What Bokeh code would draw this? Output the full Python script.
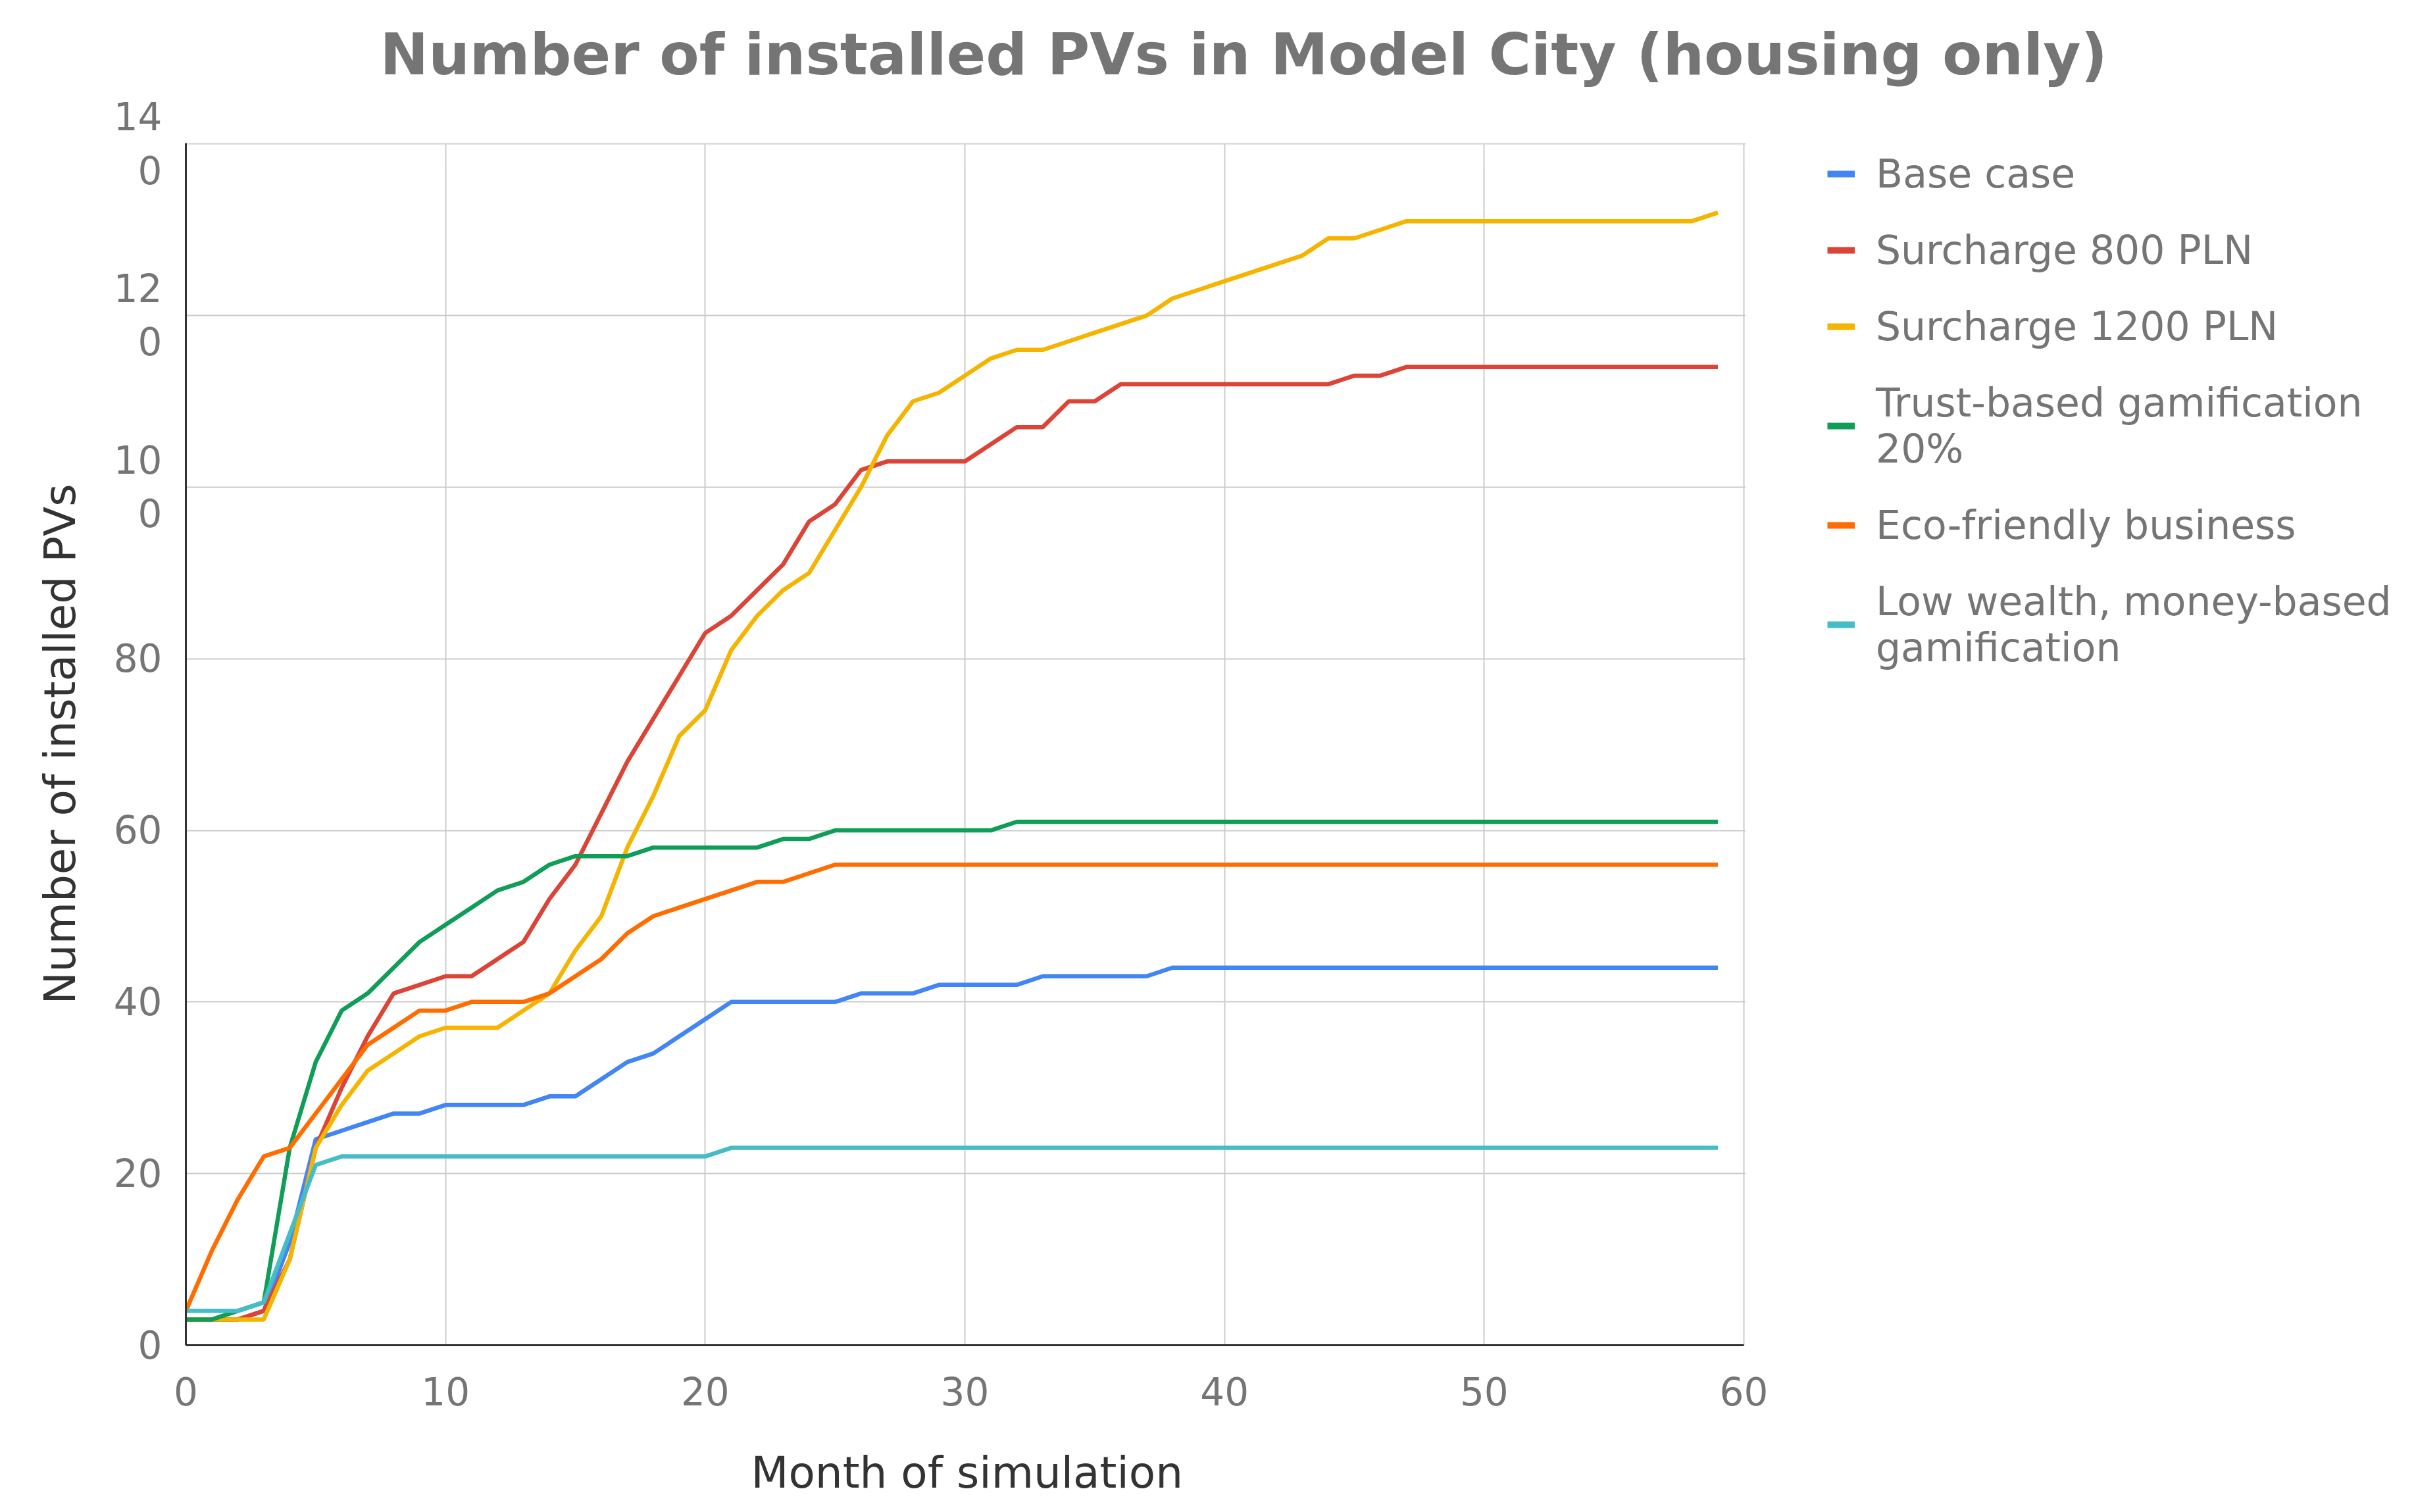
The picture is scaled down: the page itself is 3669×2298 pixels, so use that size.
from bokeh.plotting import figure
from bokeh.models import Range1d, FixedTicker, Legend, LegendItem, Title, BoxAnnotation
from bokeh.embed import file_html
from bokeh.resources import INLINE

months = list(range(60))

base_case = [3, 3, 3, 4, 12, 24, 25, 26, 27, 27,
             28, 28, 28, 28, 29, 29, 31, 33, 34, 36,
             38, 40, 40, 40, 40, 40, 41, 41, 41, 42,
             42, 42, 42, 43, 43, 43, 43, 43, 44] + [44] * 21
surcharge_800 = [3, 3, 3, 4, 10, 23, 30, 36, 41, 42,
                 43, 43, 45, 47, 52, 56, 62, 68, 73, 78,
                 83, 85, 88, 91, 96, 98, 102, 103, 103, 103,
                 103, 105, 107, 107, 110, 110, 112, 112, 112, 112,
                 112, 112, 112, 112, 112, 113, 113, 114] + [114] * 12
surcharge_1200 = [3, 3, 3, 3, 10, 23, 28, 32, 34, 36,
                  37, 37, 37, 39, 41, 46, 50, 58, 64, 71,
                  74, 81, 85, 88, 90, 95, 100, 106, 110, 111,
                  113, 115, 116, 116, 117, 118, 119, 120, 122, 123,
                  124, 125, 126, 127, 129, 129, 130, 131] + [131] * 11 + [132]
trust_gamification = [3, 3, 4, 5, 23, 33, 39, 41, 44, 47,
                      49, 51, 53, 54, 56, 57, 57, 57, 58, 58,
                      58, 58, 58, 59, 59] + [60] * 7 + [61] * 28
eco_business = [4, 11, 17, 22, 23, 27, 31, 35, 37, 39,
                39, 40, 40, 40, 41, 43, 45, 48, 50, 51,
                52, 53, 54, 54, 55] + [56] * 35
low_wealth = [4, 4, 4, 5, 13, 21] + [22] * 15 + [23] * 39

series_names = ["Base case", "Surcharge 800 PLN", "Surcharge 1200 PLN",
                "Trust-based gamification\n20%", "Eco-friendly business",
                "Low wealth, money-based\ngamification"]
series_values = [base_case, surcharge_800, surcharge_1200,
                 trust_gamification, eco_business, low_wealth]
series_colors = ["#4285F4", "#DB4437", "#F4B400", "#0F9D58", "#FF6D00", "#46BDC6"]

x_ticks = [0, 10, 20, 30, 40, 50, 60]
y_ticks = [0, 20, 40, 60, 80, 100, 120, 140]
y_tick_labels = {0: "0", 20: "20", 40: "40", 60: "60", 80: "80",
                 100: "10\n0", 120: "12\n0", 140: "14\n0"}
x_min, x_max = 0, 60
y_min, y_max = 0, 140

title_text = "Number of installed PVs in Model City (housing only)"
x_label = "Month of simulation"
y_label = "Number of installed PVs"

FONT = "DejaVu Sans"
GRAY = "#757575"
DARK = "#333333"

# layout (pixels)
W, H = 3650, 2282
LEFT, TOP, BOTTOM, RIGHT = 282, 217, 238, 8
X60_PX = 2650                      # where x = 60 falls (figure px)
frame_w = W - LEFT - RIGHT
x_end = x_max * frame_w / (X60_PX - LEFT)   # extra room on the right for the legend
frame_h = H - TOP - BOTTOM

p = figure(width=W, height=H, output_backend="svg", toolbar_location=None,
           x_range=Range1d(x_min, x_end), y_range=Range1d(y_min, y_max + 0.1),
           title=None,
           min_border_left=LEFT, min_border_right=RIGHT,
           min_border_top=TOP, min_border_bottom=BOTTOM)

# title: spacer nearest the frame, then the real title
p.add_layout(Title(text=" ", text_font_size="1px", standoff=81), "above")
p.add_layout(Title(text=title_text, text_font=FONT, text_font_size="88px",
                   text_font_style="bold", text_color=GRAY,
                   align="left", offset=295, standoff=0), "above")

p.outline_line_color = None
p.background_fill_color = "white"
p.border_fill_color = "white"

p.xaxis.ticker = FixedTicker(ticks=x_ticks)
p.yaxis.ticker = FixedTicker(ticks=y_ticks)
p.yaxis.major_label_overrides = y_tick_labels
p.xaxis.bounds = (x_min, x_max)

for ax in (p.xaxis, p.yaxis):
    ax.major_tick_line_color = None
    ax.minor_tick_line_color = None
    ax.axis_line_color = DARK
    ax.axis_line_width = 3
    ax.major_label_text_font = FONT
    ax.major_label_text_font_size = "58px"
    ax.major_label_text_color = GRAY
    ax.axis_label_text_font = FONT
    ax.axis_label_text_font_size = "66px"
    ax.axis_label_text_font_style = "normal"
    ax.axis_label_text_color = DARK

p.yaxis.axis_label = y_label
p.xaxis.major_label_standoff = 42
p.yaxis.major_label_standoff = 30
p.yaxis.axis_label_standoff = 40

# x-axis label centred under the 0..60 part of the axis
p.add_layout(Title(text=" ", text_font_size="1px", standoff=56), "below")
p.add_layout(Title(text=x_label, text_font=FONT, text_font_size="66px",
                   text_font_style="normal", text_color=DARK,
                   align="left", offset=859, standoff=0), "below")

p.xgrid.ticker = FixedTicker(ticks=x_ticks)
p.ygrid.ticker = FixedTicker(ticks=y_ticks)
for g in (p.xgrid, p.ygrid):
    g.grid_line_color = "#CCCCCC"
    g.grid_line_width = 2

# white mask so the horizontal grid stops at x = 60
p.add_layout(BoxAnnotation(left=x_max + 0.06, top=y_max + 0.5, bottom=y_min - 0.5,
                           fill_color="white", fill_alpha=1.0,
                           line_color=None, level="annotation"))

items = []
for name, vals, col in zip(series_names, series_values, series_colors):
    p.line(months, vals, line_color=col, line_width=6.5)
    # single-point line: invisible in the plot, gives a thick legend swatch
    swatch = p.line(months[:1], vals[:1], line_color=col, line_width=10)
    items.append(LegendItem(label=name, renderers=[swatch]))

legend_x = (X60_PX - LEFT) + 127
legend_h = 4 * 70 + 2 * 138 + 5 * 46
legend_y = frame_h - 7 - legend_h - 9
legend = Legend(items=items, location=(legend_x, legend_y),
                label_text_font=FONT, label_text_font_size="60px",
                label_text_color=GRAY,
                glyph_width=42, glyph_height=20, label_standoff=32,
                spacing=46, padding=0, margin=0,
                border_line_color=None, background_fill_alpha=0)
p.add_layout(legend, "center")

open("out.html", "w").write(file_html(p, INLINE))
